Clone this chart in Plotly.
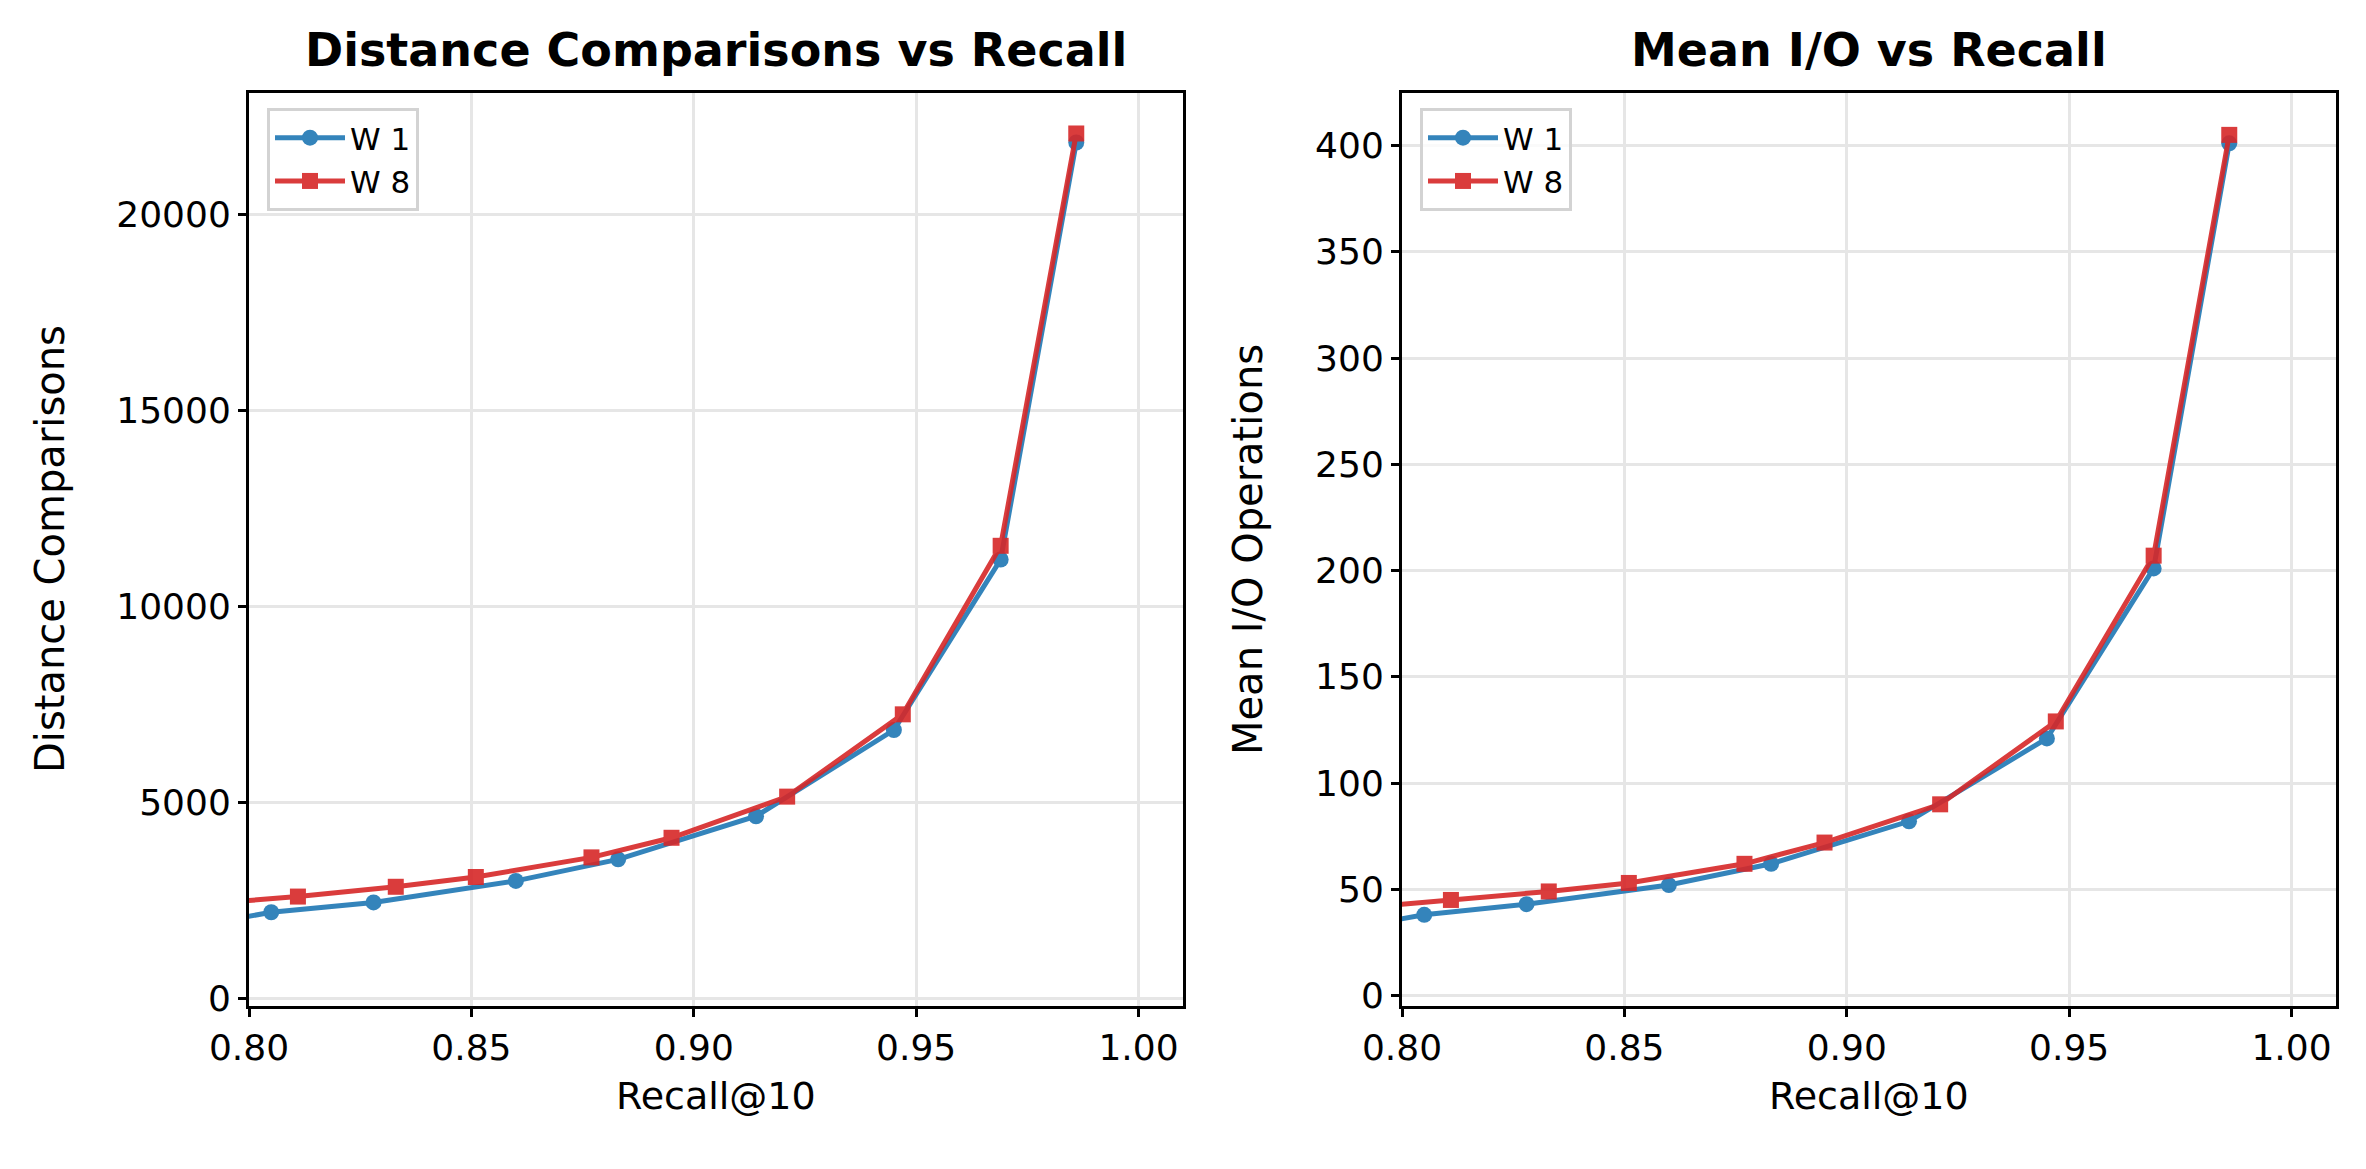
import plotly.graph_objects as go

# ---- data ----
w1_recall = [0.740, 0.805, 0.828, 0.860, 0.883, 0.914, 0.945, 0.969, 0.986]
w1_dist = [870, 2200, 2450, 3000, 3550, 4650, 6850, 11200, 21840]
w1_io = [14.5, 38, 43, 52, 62, 82, 121, 201, 401]

w8_recall = [0.745, 0.811, 0.833, 0.851, 0.877, 0.895, 0.921, 0.947, 0.969, 0.986]
w8_dist = [2000, 2600, 2850, 3100, 3600, 4100, 5150, 7250, 11550, 22070]
w8_io = [33, 45, 49, 53, 62, 72, 90, 129, 207, 405]

x_ticks = [0.80, 0.85, 0.90, 0.95, 1.00]
dist_ticks = [0, 5000, 10000, 15000, 20000]
io_ticks = [0, 50, 100, 150, 200, 250, 300, 350, 400]

BLUE = "#1f77b4"
RED = "#d62728"
FONT = "DejaVu Sans"

W, H = 2366, 1169
fig = go.Figure()

def add_series(x, y, name, color, symbol, xa, ya, legend):
    fig.add_trace(go.Scatter(
        x=x, y=y, name=name, mode="lines+markers",
        line=dict(color=color, width=5),
        marker=dict(color=color, symbol=symbol, size=16, line=dict(width=0)),
        opacity=0.9, xaxis=xa, yaxis=ya, legend=legend, cliponaxis=True,
    ))

add_series(w1_recall, w1_dist, "W 1", BLUE, "circle", "x", "y", "legend")
add_series(w8_recall, w8_dist, "W 8", RED, "square", "x", "y", "legend")
add_series(w1_recall, w1_io, "W 1", BLUE, "circle", "x2", "y2", "legend2")
add_series(w8_recall, w8_io, "W 8", RED, "square", "x2", "y2", "legend2")

axis_common = dict(
    showline=True, linecolor="black", linewidth=3, mirror=True,
    ticks="outside", ticklen=8, tickwidth=3, tickcolor="black",
    showgrid=True, gridcolor="#e6e6e6", gridwidth=2.5,
    zeroline=False, automargin=False,
    tickfont=dict(family=FONT, size=36, color="black"),
)

ydom = [1 - 998 / H, 1 - 85 / H]
legend_common = dict(
    xanchor="left", yanchor="top",
    bgcolor="rgba(255,255,255,0.8)", bordercolor="#d3d3d3", borderwidth=3,
    font=dict(family=FONT, size=31, color="black"), itemwidth=70,
    entrywidth=110, entrywidthmode="pixels",
    tracegroupgap=0,
)
fig.update_layout(
    width=W, height=H, autosize=False,
    margin=dict(l=0, r=0, t=0, b=0, pad=0, autoexpand=False),
    paper_bgcolor="white", plot_bgcolor="white",
    font=dict(family=FONT, color="black"),
    xaxis=dict(domain=[241 / W, 1175 / W], range=[0.80, 1.01], tickvals=x_ticks,
               tickformat=".2f", anchor="y", **axis_common),
    yaxis=dict(domain=ydom, range=[-192, 23103], tickvals=dist_ticks,
               tickformat="d", anchor="x", **axis_common),
    xaxis2=dict(domain=[1394 / W, 2328 / W], range=[0.80, 1.01], tickvals=x_ticks,
                tickformat=".2f", anchor="y2", **axis_common),
    yaxis2=dict(domain=ydom, range=[-4.9, 424.7], tickvals=io_ticks,
                tickformat="d", anchor="x2", **axis_common),
    legend=dict(x=259 / W, y=1 - 100 / H, **legend_common),
    legend2=dict(x=1412 / W, y=1 - 100 / H, **legend_common),
    showlegend=True,
)

ann = []
def add_text(text, x, y, size, angle=0):
    ann.append(dict(text=text, x=x / W, y=1 - y / H, xref="paper", yref="paper",
                    xanchor="center", yanchor="middle", showarrow=False,
                    textangle=angle, font=dict(family=FONT, size=size, color="black")))

# titles
add_text("<b>Distance Comparisons vs Recall</b>", 708, 42, 46)
add_text("<b>Mean I/O vs Recall</b>", 1861, 42, 46)
# x labels
add_text("Recall@10", 708, 1088, 38)
add_text("Recall@10", 1861, 1088, 38)
# y labels
add_text("Distance Comparisons", 42, 541, 40, -90)
add_text("Mean I/O Operations", 1240, 541, 40, -90)
fig.update_layout(annotations=ann)

fig.write_html("out.html")
